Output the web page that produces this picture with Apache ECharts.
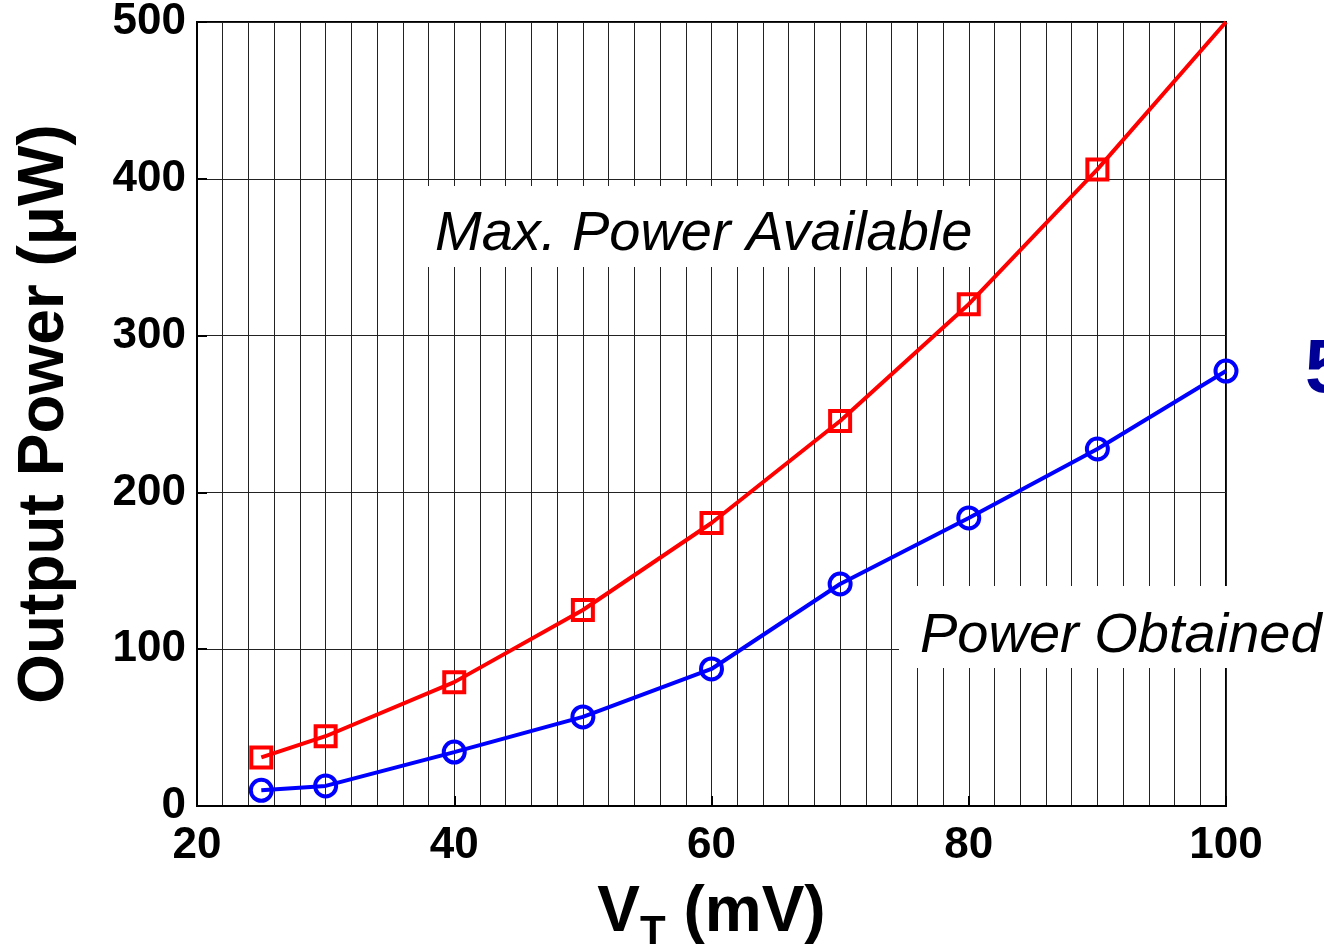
<!DOCTYPE html>
<html>
<head>
<meta charset="utf-8">
<script src="https://cdn.jsdelivr.net/npm/echarts@6/dist/echarts.min.js"></script>
<style>
  html, body { margin: 0; padding: 0; background: #fff; }
  #main { width: 1324px; height: 944px; }
</style>
</head>
<body>
<div id="main"></div>
<script>
// threshold voltage (mV)
var vtValues = [25, 30, 40, 50, 60, 70, 80, 90, 100];
// max power available (uW)
var maxPower = [31, 44.5, 79, 125, 180.5, 245.5, 320, 406, 500];
// power obtained (uW)
var obtainedPower = [10, 12.8, 34.4, 56.8, 87.4, 141.6, 183.7, 227.7, 277.4];

var FONT = '"Liberation Sans", Arial, sans-serif';

function pairs(xs, ys) {
  return xs.map(function (x, i) { return [x, ys[i]]; });
}

var chart = echarts.init(document.getElementById('main'));

// last red point sits on the corner, marker not drawn there
var redData = pairs(vtValues, maxPower).map(function (p, i) {
  return i === vtValues.length - 1 ? {value: p, symbol: 'none'} : p;
});

var option = {
  animation: false,
  backgroundColor: '#fff',
  grid: {
    left: 197, right: 98, top: 22, bottom: 138,
    outerBoundsMode: 'none',
    containLabel: false,
    show: true,
    borderColor: '#000',
    borderWidth: 2,
    backgroundColor: 'transparent'
  },
  xAxis: {
    type: 'value',
    min: 20, max: 100, interval: 20,
    name: '{v|V}{sub|T}{v| (mV)}',
    nameLocation: 'middle',
    nameGap: 66,
    nameTextStyle: {
      rich: {
        v: {fontFamily: FONT, fontSize: 64, fontWeight: 'bold', color: '#000'},
        sub: {fontFamily: FONT, fontSize: 42, fontWeight: 'bold', color: '#000',
              padding: [40, 0, 0, 0]}
      }
    },
    axisLine: {show: true, onZero: false, lineStyle: {color: '#000', width: 2}},
    axisTick: {show: true, inside: true, length: 10, lineStyle: {color: '#000', width: 2}},
    axisLabel: {fontFamily: FONT, fontSize: 44, fontWeight: 'bold', color: '#000', margin: 18},
    splitLine: {show: true, lineStyle: {color: '#222', width: 1}},
    minorTick: {show: false, splitNumber: 10},
    minorSplitLine: {show: true, lineStyle: {color: '#222', width: 1}}
  },
  yAxis: {
    type: 'value',
    min: 0, max: 500, interval: 100,
    name: 'Output Power (μW)',
    nameLocation: 'middle',
    nameGap: 120,
    nameTextStyle: {fontFamily: FONT, fontSize: 64, fontWeight: 'bold', color: '#000'},
    axisLine: {show: true, lineStyle: {color: '#000', width: 2}},
    axisTick: {show: true, inside: true, length: 10, lineStyle: {color: '#000', width: 2}},
    axisLabel: {fontFamily: FONT, fontSize: 44, fontWeight: 'bold', color: '#000', margin: 11},
    splitLine: {show: true, lineStyle: {color: '#222', width: 1}}
  },
  series: [
    {
      name: 'Max. Power Available',
      type: 'line',
      data: redData,
      symbol: 'rect',
      symbolSize: 20,
      lineStyle: {color: '#ff0000', width: 4},
      itemStyle: {color: 'rgba(0,0,0,0)', borderColor: '#ff0000', borderWidth: 4},
      z: 3
    },
    {
      name: 'Power Obtained',
      type: 'line',
      data: pairs(vtValues, obtainedPower),
      symbol: 'circle',
      symbolSize: 21,
      lineStyle: {color: '#0000ff', width: 4},
      itemStyle: {color: 'rgba(0,0,0,0)', borderColor: '#0000ff', borderWidth: 4},
      z: 3
    }
  ],
  graphic: [
    {type: 'rect', shape: {x: 424, y: 186, width: 562, height: 81},
     style: {fill: '#fff'}, z: 10},
    {type: 'text', x: 435, y: 234,
     style: {text: 'Max. Power Available', fontFamily: FONT, fontSize: 56,
             fontStyle: 'italic', fill: '#000', verticalAlign: 'middle'}, z: 11},
    {type: 'rect', shape: {x: 899, y: 586, width: 430, height: 82},
     style: {fill: '#fff'}, z: 10},
    {type: 'text', x: 920, y: 636,
     style: {text: 'Power Obtained', fontFamily: FONT, fontSize: 56,
             fontStyle: 'italic', fill: '#000', verticalAlign: 'middle'}, z: 11},
    {type: 'text', x: 1305, y: 371,
     style: {text: '5', fontFamily: FONT, fontSize: 76, fontWeight: 'bold',
             fill: '#000096', verticalAlign: 'middle'}, z: 11}
  ]
};

chart.setOption(option);
</script>
</body>
</html>
